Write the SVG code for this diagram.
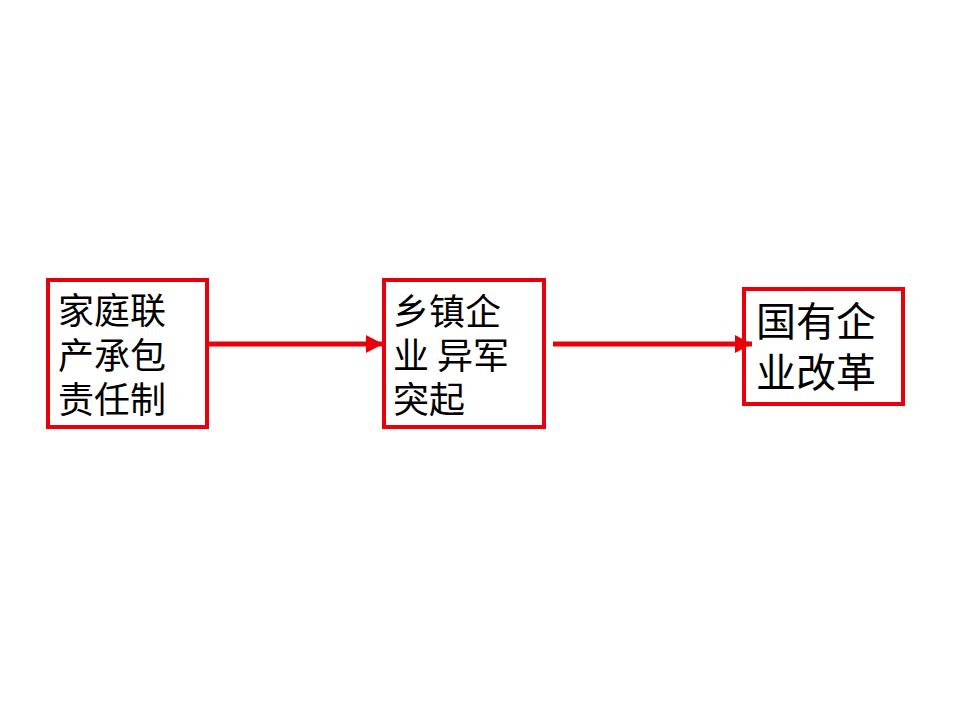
<svg xmlns="http://www.w3.org/2000/svg" width="960" height="720" viewBox="0 0 960 720">
<style>
.box{fill:#fff;stroke:#e8000b;stroke-width:4}
.t{font-family:"Noto Sans CJK SC","Noto Sans CJK TC",sans-serif;fill:#000}
.edge{stroke:#e8000b;stroke-width:5;fill:none}
</style>
<defs>
<marker id="ah" markerUnits="userSpaceOnUse" markerWidth="18" markerHeight="20" refX="17" refY="10" orient="auto">
<path d="M0,1 L17,10 L0,19 Z" fill="#e8000b"/>
</marker>
</defs>
<rect width="960" height="720" fill="#fff"/>
<g id="n1">
<rect class="box" x="48" y="280" width="159" height="147"/>
<text class="t" font-size="36"><tspan x="58" y="324">家庭联</tspan><tspan x="58" y="369">产承包</tspan><tspan x="58" y="413">责任制</tspan></text>
</g>
<g id="n2">
<rect class="box" x="384" y="280" width="160" height="147"/>
<text class="t" font-size="36"><tspan x="393" y="325">乡镇企</tspan><tspan x="393" y="369">业 异军</tspan><tspan x="393" y="413">突起</tspan></text>
</g>
<g id="n3">
<rect class="box" x="744" y="289" width="159" height="115"/>
<text class="t" font-size="40"><tspan x="756" y="336">国有企</tspan><tspan x="756" y="387">业改革</tspan></text>
</g>
<g id="connectors">
<line class="edge" x1="209" y1="344" x2="383" y2="344" marker-end="url(#ah)"/>
<line class="edge" x1="553" y1="344" x2="752" y2="344" marker-end="url(#ah)"/>
</g>
</svg>
